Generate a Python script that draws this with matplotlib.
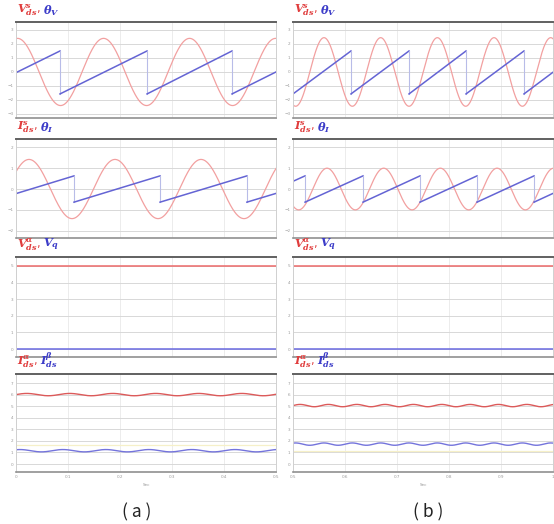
import numpy as np
import matplotlib
matplotlib.use('Agg')
import matplotlib.pyplot as plt

plt.rcParams['mathtext.fontset'] = 'dejavuserif'

W, H = 554, 524

# time axes of the two columns (s)
t_lim = {'a': (0.0, 0.5), 'b': (0.5, 1.0)}
x_ticks = {'a': [0.0, 0.1, 0.2, 0.3, 0.4, 0.5], 'b': [0.5, 0.6, 0.7, 0.8, 0.9, 1.0]}

# sine traces: amplitude, period, time of first peak
v_sine = {'a': (2.4, 0.1654, 0.003), 'b': (2.45, 0.109, 0.5596)}
i_sine = {'a': (1.42, 0.1654, 0.025), 'b': (1.0, 0.109, 0.5654)}

# sawtooth vertices (time, value)
theta_v_t = {'a': [0.0, 0.0846, 0.0846, 0.252, 0.252, 0.4154, 0.4154, 0.5],
             'b': [0.5, 0.6115, 0.6115, 0.7231, 0.7231, 0.8327, 0.8327, 0.9442, 0.9442, 1.0]}
theta_v_y = {'a': [-0.05, 1.5, -1.57, 1.5, -1.57, 1.5, -1.57, 0.0],
             'b': [-1.57, 1.5, -1.57, 1.5, -1.57, 1.5, -1.57, 1.5, -1.57, -0.02]}
theta_i_t = {'a': [0.0, 0.1115, 0.1115, 0.277, 0.277, 0.444, 0.444, 0.5],
             'b': [0.5, 0.5231, 0.5231, 0.6346, 0.6346, 0.7442, 0.7442, 0.8538, 0.8538, 0.9635, 0.9635, 1.0]}
theta_i_y = {'a': [-0.22, 0.63, -0.63, 0.63, -0.63, 0.63, -0.63, -0.21],
             'b': [0.37, 0.63, -0.63, 0.63, -0.63, 0.63, -0.63, 0.63, -0.63, 0.63, -0.63, -0.21]}

# constant traces of panel 3
v_alpha = 5.0
v_q = 0.0

# dc currents with small ripple: mean, ripple amplitude, ripple period
i_alpha = {'a': (6.0, 0.1, 0.0827), 'b': (5.05, 0.1, 0.0545)}
i_beta = {'a': (1.15, 0.1, 0.0827), 'b': (1.72, 0.1, 0.0545)}
i_faint = {'a': 1.64, 'b': 1.15}

y_ticks = [[-3, -2, -1, 0, 1, 2, 3], [-2, -1, 0, 1, 2], [0, 1, 2, 3, 4, 5], [0, 1, 2, 3, 4, 5, 6, 7]]
y_lims = [(-3.29, 3.57), (-2.35, 2.4), (-0.48, 5.54), (-0.69, 7.78)]

titles = [
    (r'$\mathbfit{V}^{\mathbfit{s}}_{\mathbfit{ds}}$,', r'$\mathbfit{\theta}_{\mathbfit{V}}$'),
    (r'$\mathbfit{I}^{\mathbfit{s}}_{\mathbfit{ds}}$,', r'$\mathbfit{\theta}_{\mathbfit{I}}$'),
    (r'$\mathbfit{V}^{\mathbfit{\alpha}}_{\mathbfit{ds}}$,', r'$\mathbfit{V}_{\mathbfit{q}}$'),
    (r'$\mathbfit{I}^{\mathbfit{\alpha}}_{\mathbfit{ds}}$,', r'$\mathbfit{I}^{\mathbfit{\beta}}_{\mathbfit{ds}}$'),
]

RED = '#f2a0a0'
BLUE = '#6464d4'
TRED = '#e03c3c'
TBLUE = '#3c3cc8'

col_left = {'a': 16, 'b': 293}
rows_px = [(22, 118), (139, 238), (257, 357), (374, 472)]

fig = plt.figure(figsize=(W / 100, H / 100), dpi=100)


def draw_saw(ax, ts, ys):
    ts = np.array(ts)
    ys = np.array(ys)
    for k in range(0, len(ts) - 1):
        if ts[k] == ts[k + 1]:
            ax.plot(ts[k:k + 2], ys[k:k + 2], color='#b8bce8', lw=0.8)
        else:
            ax.plot(ts[k:k + 2], ys[k:k + 2], color=BLUE, lw=1.1)


axes = {}
for col in ['a', 'b']:
    t0, t1 = t_lim[col]
    t = np.linspace(t0, t1, 1500)
    for r, (top, bot) in enumerate(rows_px):
        ax = fig.add_axes([col_left[col] / W, 1 - bot / H, 260 / W, (bot - top) / H])
        axes[(col, r)] = ax
        if r == 0:
            a, p, pk = v_sine[col]
            ax.plot(t, a * np.cos(2 * np.pi * (t - pk) / p), color=RED, lw=0.9)
            draw_saw(ax, theta_v_t[col], theta_v_y[col])
        elif r == 1:
            a, p, pk = i_sine[col]
            ax.plot(t, a * np.cos(2 * np.pi * (t - pk) / p), color=RED, lw=0.9)
            draw_saw(ax, theta_i_t[col], theta_i_y[col])
        elif r == 2:
            ax.plot([t0, t1], [v_alpha, v_alpha], color='#ec6a6a', lw=1.1)
            ax.plot([t0, t1], [v_q, v_q], color='#6a6ae0', lw=1.1)
        else:
            ax.plot([t0, t1], [i_faint[col]] * 2, color='#f6f0c8', lw=0.9)
            m, a, p = i_alpha[col]
            ax.plot(t, m + a * np.sin(2 * np.pi * (t - t0) / p), color='#dc5a5a', lw=1.0)
            m, a, p = i_beta[col]
            ax.plot(t, m + a * np.sin(2 * np.pi * (t - t0) / p + 1.0), color='#7474dc', lw=1.0)

        ax.set_xlim(t0, t1)
        ax.set_ylim(*y_lims[r])
        ax.set_yticks(y_ticks[r])
        ax.set_xticks(x_ticks[col])
        ax.grid(True, axis='y', color='#d8d8d8', lw=0.7)
        ax.grid(True, axis='x', color='#ececec', lw=0.7)
        ax.set_axisbelow(True)
        ax.tick_params(length=0, labelsize=3, labelcolor='#9a9a9a', pad=2)
        if r < 3:
            ax.set_xticklabels([])
        else:
            ax.set_xticklabels([f'{v:g}' for v in x_ticks[col]])
            ax.set_xlabel('Sec', fontsize=3, color='#9a9a9a', labelpad=3)
        ax.spines['top'].set_color('#606060')
        ax.spines['top'].set_linewidth(1.4)
        ax.spines['bottom'].set_color('#909090')
        ax.spines['bottom'].set_linewidth(1.2)
        for s in ['left', 'right']:
            ax.spines[s].set_color('#d0d0d0')
            ax.spines[s].set_linewidth(0.7)

# titles in two colours
fig.canvas.draw()
renderer = fig.canvas.get_renderer()
for (col, r), ax in axes.items():
    red_txt, blue_txt = titles[r]
    t1 = ax.annotate(red_txt, xy=(0, 1), xycoords='axes fraction', xytext=(1, 3),
                     textcoords='offset points', fontsize=8.2, color=TRED, va='bottom')
    bb = t1.get_window_extent(renderer)
    ax.annotate(blue_txt, xy=(0, 1), xycoords='axes fraction',
                xytext=(1 + (bb.width + 2) * 72 / 100, 3),
                textcoords='offset points', fontsize=8.2, color=TBLUE, va='bottom')

fig.text(137 / W, 1 - 512 / H, '( a )', ha='center', va='center', fontsize=12.5,
         family=['Noto Sans CJK KR', 'DejaVu Sans'], color='#222222')
fig.text(428 / W, 1 - 512 / H, '( b )', ha='center', va='center', fontsize=12.5,
         family=['Noto Sans CJK KR', 'DejaVu Sans'], color='#222222')

fig.savefig('out.png', dpi=100)
